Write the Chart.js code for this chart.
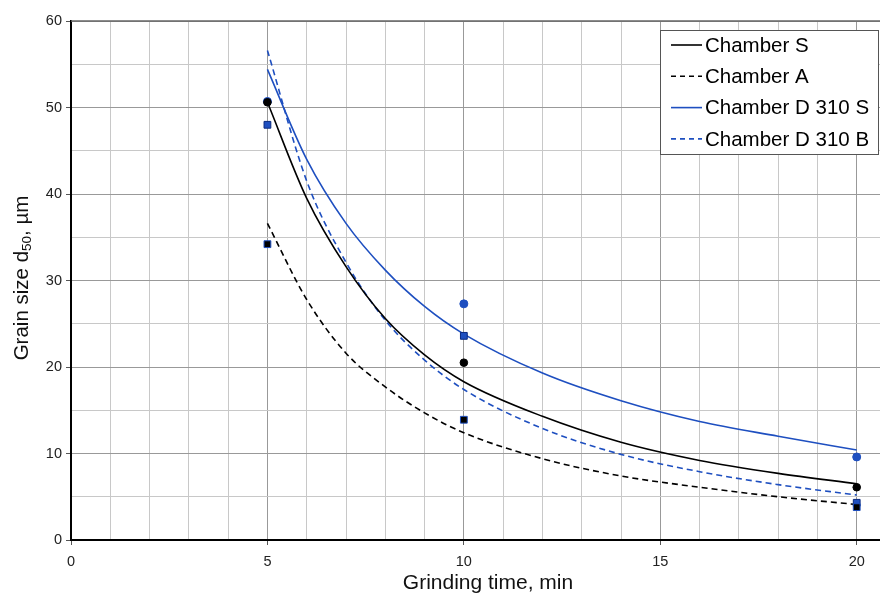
<!DOCTYPE html>
<html>
<head>
<meta charset="utf-8">
<script src="https://cdn.jsdelivr.net/npm/chart.js@4.4.1/dist/chart.umd.min.js"></script>
<style>
  html, body { margin: 0; padding: 0; background: #fff; overflow: hidden; }
  #wrap { width: 904px; height: 595px; }
</style>
</head>
<body>
<div id="wrap"><canvas id="grain"></canvas></div>
<script>
// measured points
const timeMeasured = [5, 10, 20];
const measS = [50.6, 20.5, 6.1];
const measA = [34.2, 13.9, 3.8];
const measD310S = [50.7, 27.3, 9.6];
const measD310B = [48.0, 23.6, 4.3];

// trend curves
const fitTimes = [5, 6, 7, 8, 9, 10, 12, 14, 16, 18, 20];
const curveS = [50.6, 39.5, 31.6, 25.6, 21.4, 18.3, 14.3, 11.3, 9.2, 7.7, 6.5];
const curveA = [36.6, 27.8, 21.6, 17.7, 14.7, 12.4, 9.4, 7.4, 6.1, 5.0, 4.1];
const curveD310S = [54.4, 44.0, 36.6, 31.2, 27.0, 23.8, 19.3, 16.1, 13.7, 12.0, 10.4];
const curveD310B = [56.6, 41.5, 32.1, 25.4, 20.8, 17.4, 12.9, 9.9, 7.9, 6.4, 5.2];

const legendNames = ['Chamber S', 'Chamber A', 'Chamber D 310 S', 'Chamber D 310 B'];

const BLUE = '#1e4fc0';
const FONT = '"Liberation Sans", Arial, sans-serif';
const pts = (xs, ys) => xs.map((x, i) => ({ x: x, y: ys[i] }));

function curve(label, ys, color, dash) {
  return {
    label: label, data: pts(fitTimes, ys), borderColor: color, borderWidth: 1.6,
    borderDash: dash, pointRadius: 0, showLine: true, fill: false,
    cubicInterpolationMode: 'monotone', order: 2
  };
}
function marks(label, ys, fill, border, style, r) {
  return {
    label: label, data: pts(timeMeasured, ys), showLine: false,
    pointStyle: style, pointRadius: r, backgroundColor: fill,
    borderColor: border, borderWidth: 1, order: 1
  };
}

const frame = {
  id: 'frame',
  afterDraw(chart) {
    const c = chart.ctx, a = chart.chartArea;
    c.save();
    // top border
    c.strokeStyle = '#666'; c.lineWidth = 1.5;
    c.beginPath(); c.moveTo(a.left, a.top); c.lineTo(a.right, a.top); c.stroke();

    // legend box
    c.fillStyle = '#fff';
    c.fillRect(660, 30, 219, 125);
    c.strokeStyle = '#555'; c.lineWidth = 1;
    c.strokeRect(660.5, 30.5, 218, 124);
    const colors = ['#000', '#000', BLUE, BLUE];
    const dashes = [[], [5, 4], [], [5, 4]];
    c.font = '20.5px ' + FONT;
    c.textBaseline = 'middle'; c.textAlign = 'left';
    legendNames.forEach((n, i) => {
      const y = 45 + i * 31.3;
      c.strokeStyle = colors[i]; c.lineWidth = 1.6; c.setLineDash(dashes[i]);
      c.beginPath(); c.moveTo(671, y); c.lineTo(702, y); c.stroke();
      c.setLineDash([]);
      c.fillStyle = '#000';
      c.fillText(n, 705, y + 1);
    });

    // axis titles
    c.fillStyle = '#111';
    c.font = '21px ' + FONT;
    c.textAlign = 'center'; c.textBaseline = 'middle';
    c.fillText('Grinding time, min', 488, 583);

    c.translate(22, 278);
    c.rotate(-Math.PI / 2);
    const big = '20.5px ' + FONT;
    const small = '13.5px ' + FONT;
    const p1 = 'Grain size d', p2 = '50', p3 = ', \u00b5m';
    c.font = big; const w1 = c.measureText(p1).width, w3 = c.measureText(p3).width;
    c.font = small; const w2 = c.measureText(p2).width;
    let x0 = -(w1 + w2 + w3) / 2;
    c.textAlign = 'left';
    c.font = big; c.fillText(p1, x0, 0);
    c.font = small; c.fillText(p2, x0 + w1, 5);
    c.font = big; c.fillText(p3, x0 + w1 + w2, 0);
    c.restore();
  }
};

new Chart(document.getElementById('grain'), {
  type: 'scatter',
  data: {
    datasets: [
      marks('S points', measS, '#000', '#000', 'circle', 3.8),
      marks('A points', measA, '#000', BLUE, 'rect', 4.8),
      marks('D 310 S points', measD310S, BLUE, BLUE, 'circle', 4),
      marks('D 310 B points', measD310B, BLUE, '#0a2a80', 'rect', 4.8),
      curve(legendNames[0], curveS, '#000', []),
      curve(legendNames[1], curveA, '#000', [6, 4]),
      curve(legendNames[2], curveD310S, BLUE, []),
      curve(legendNames[3], curveD310B, BLUE, [6, 4])
    ]
  },
  options: {
    responsive: true,
    maintainAspectRatio: false,
    animation: false,
    layout: { padding: { top: 21, right: 3, left: 0, bottom: 0 } },
    plugins: { legend: { display: false }, tooltip: { enabled: false } },
    scales: {
      x: {
        type: 'linear', min: 0, max: 21,
        afterFit(s) { s.height = 55; },
        border: { color: '#000', width: 2 },
        grid: {
          color: ctx => (ctx.tick && ctx.tick.value % 5 === 0) ? '#999' : '#c8c8c8',
          tickColor: ctx => (ctx.tick && ctx.tick.value % 5 === 0) ? '#555' : 'rgba(0,0,0,0)',
          tickLength: 5
        },
        ticks: {
          stepSize: 1, padding: 8, color: '#222',
          font: { family: FONT, size: 14.5 },
          maxRotation: 0, autoSkip: false,
          callback: v => (v % 5 === 0 && v <= 20) ? String(v) : ''
        },
        title: { display: false }
      },
      y: {
        type: 'linear', min: 0, max: 60,
        afterFit(s) { s.width = 71; },
        border: { color: '#000', width: 2 },
        grid: {
          color: ctx => (ctx.tick && ctx.tick.value % 10 === 0) ? '#999' : '#c8c8c8',
          tickColor: ctx => (ctx.tick && ctx.tick.value % 10 === 0) ? '#555' : 'rgba(0,0,0,0)',
          tickLength: 5
        },
        ticks: {
          stepSize: 5, padding: 4, color: '#222',
          font: { family: FONT, size: 14.5 },
          autoSkip: false,
          callback: v => (v % 10 === 0) ? String(v) : ''
        },
        title: { display: false }
      }
    }
  },
  plugins: [frame]
});
</script>
</body>
</html>
